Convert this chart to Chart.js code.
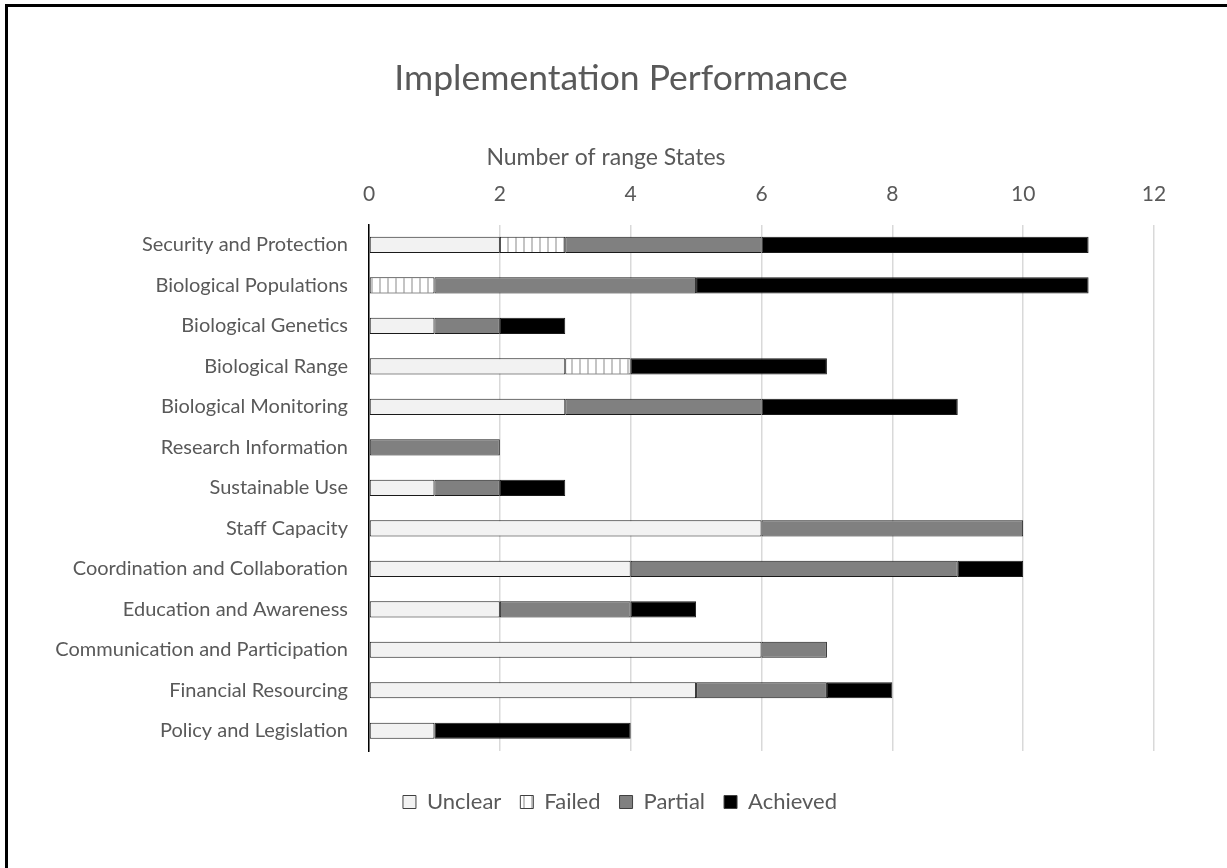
<!DOCTYPE html>
<html>
<head>
<meta charset="utf-8">
<script src="https://cdn.jsdelivr.net/npm/chart.js@4"></script>
<style>
  html, body { margin: 0; padding: 0; background: #fff; }
  #wrap { position: absolute; left: 0; top: 0; width: 1227px; height: 868px; }
</style>
</head>
<body>
<div id="wrap"><canvas id="chart" width="1227" height="868"></canvas></div>
<script>
// chart data
const categories = [
  'Security and Protection', 'Biological Populations', 'Biological Genetics',
  'Biological Range', 'Biological Monitoring', 'Research Information',
  'Sustainable Use', 'Staff Capacity', 'Coordination and Collaboration',
  'Education and Awareness', 'Communication and Participation',
  'Financial Resourcing', 'Policy and Legislation'
];
const unclear  = [2, 0, 1, 3, 3, 0, 1, 6, 4, 2, 6, 5, 1];
const failed   = [1, 1, 0, 1, 0, 0, 0, 0, 0, 0, 0, 0, 0];
const partial  = [3, 4, 1, 0, 3, 2, 1, 4, 5, 2, 1, 2, 0];
const achieved = [5, 6, 1, 3, 3, 0, 1, 0, 1, 1, 0, 1, 3];
const xTicks = [0, 2, 4, 6, 8, 10, 12];
const xAxisTitle = 'Number of range States';

const FONT = 'Lato, "Open Sans", sans-serif';
const TEXT = '#595959';

// striped fill for the "Failed" series
function stripePattern() {
  const c = document.createElement('canvas');
  c.width = 8; c.height = 8;
  const g = c.getContext('2d');
  g.fillStyle = '#ffffff';
  g.fillRect(0, 0, 8, 8);
  g.fillStyle = '#c4c4c4';
  g.fillRect(3, 0, 2, 8);
  return g.createPattern(c, 'repeat');
}

const zeroToNull = arr => arr.map(v => (v === 0 ? null : v));

// the original centres title and legend a bit right of the canvas box,
// and the axis title left of the plot centre
const framePlugin = {
  id: 'frame',
  afterLayout(chart) {
    if (chart.titleBlock) chart.titleBlock.left += 88;
    if (chart.legend) chart.legend.left += 86;
  },
  afterDraw(chart) {
    const ctx = chart.ctx;
    ctx.save();
    ctx.fillStyle = '#000';
    ctx.fillRect(5, 4, 1222, 3);
    ctx.fillRect(5, 4, 3, 864);
    ctx.fillStyle = TEXT;
    ctx.font = '23px ' + FONT;
    ctx.textAlign = 'center';
    ctx.textBaseline = 'middle';
    ctx.fillText(xAxisTitle, 606, 158);
    ctx.restore();
  }
};

const barStyle = {
  borderColor: '#1a1a1a',
  borderWidth: 1,
  borderSkipped: false,
  barPercentage: 0.4,
  categoryPercentage: 1.0
};

new Chart(document.getElementById('chart'), {
  type: 'bar',
  data: {
    labels: categories,
    datasets: [
      Object.assign({ label: 'Unclear', data: zeroToNull(unclear), backgroundColor: '#f2f2f2' }, barStyle),
      Object.assign({ label: 'Failed', data: zeroToNull(failed), backgroundColor: stripePattern() }, barStyle),
      Object.assign({ label: 'Partial', data: zeroToNull(partial), backgroundColor: '#808080' }, barStyle),
      Object.assign({ label: 'Achieved', data: zeroToNull(achieved), backgroundColor: '#000000' }, barStyle)
    ]
  },
  options: {
    indexAxis: 'y',
    responsive: false,
    animation: false,
    layout: { padding: { left: 0, right: 73, top: 0, bottom: 45 } },
    plugins: {
      title: {
        display: true,
        text: 'Implementation Performance',
        color: TEXT,
        font: { family: FONT, size: 35.5, weight: 'normal' },
        padding: { top: 57, bottom: 10 }
      },
      legend: {
        position: 'bottom',
        title: { display: true, text: '', padding: { top: 9, bottom: 0 }, font: { size: 10 } },
        labels: {
          color: TEXT,
          font: { family: FONT, size: 22 },
          boxWidth: 13,
          boxHeight: 13,
          padding: 19,
          generateLabels(chart) {
            return chart.data.datasets.map((ds, i) => ({
              text: ds.label,
              fillStyle: ds.backgroundColor,
              strokeStyle: '#404040',
              lineWidth: 1,
              fontColor: TEXT,
              hidden: false,
              datasetIndex: i
            }));
          }
        }
      },
      tooltip: { enabled: false }
    },
    scales: {
      x: {
        position: 'top',
        stacked: true,
        min: 0,
        max: 12,
        afterBuildTicks(scale) {
          scale.ticks = xTicks.map(v => ({ value: v }));
        },
        afterFit(scale) { scale.height = 115; },
        grid: { color: '#d9d9d9', lineWidth: 1.5, drawTicks: false },
        border: { display: false },
        ticks: { color: TEXT, font: { family: FONT, size: 21 }, padding: 18 },
        title: { display: false, text: xAxisTitle }
      },
      y: {
        stacked: true,
        afterFit(scale) { scale.width = 369; },
        grid: { display: false, drawTicks: false },
        border: { display: true, color: '#000', width: 1.5 },
        ticks: { color: TEXT, font: { family: FONT, size: 20 }, padding: 21 }
      }
    }
  },
  plugins: [framePlugin]
});
</script>
</body>
</html>
